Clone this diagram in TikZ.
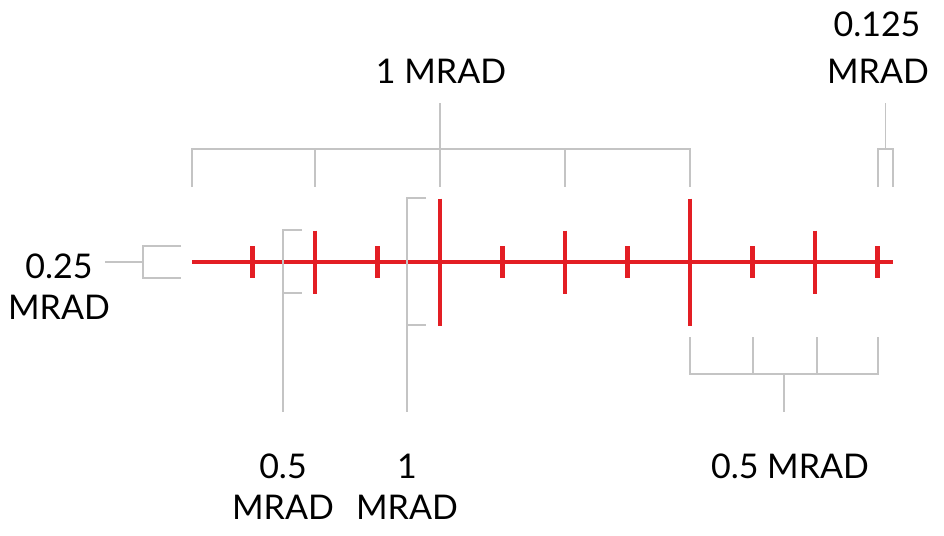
\documentclass[tikz,border=0pt]{standalone}
\usepackage{fontspec}
\setmainfont{Lato}
\definecolor{reticlered}{RGB}{227,30,36}
\definecolor{bracketgray}{RGB}{196,196,196}
\begin{document}
\begin{tikzpicture}[x=1pt,y=-1pt,
  reticle/.style={draw=reticlered,line width=4.5pt},
  brk/.style={draw=bracketgray,line width=1.4pt},
  lbl/.style={font=\fontsize{34}{40}\selectfont,inner sep=0pt,anchor=base,text=black}]
\useasboundingbox (0,0) rectangle (944,535);
\fill[white] (0,0) rectangle (944,535);
% reticle
\coordinate (L) at (192,262);
\coordinate (R) at (893,262);
\draw[reticle] (L) -- (R);
\foreach \k/\h in {1/16,2/31.5,3/16,4/63.5,5/16,6/31.5,7/16,8/63.5,9/16,10/31.5,11/16}{
  \draw[reticle] ({190+62.5*\k},{262-\h}) -- ({190+62.5*\k},{262+\h});
}
% labels
\node[lbl] (t1) at (441,83) {1 MRAD};
\node[lbl] (t2a) at (877,37) {0.125};
\node[lbl] (t2b) at (878,83) {MRAD};
\node[lbl] (l1a) at (59,278) {0.25};
\node[lbl] (l1b) at (59,319) {MRAD};
\node[lbl] (b1a) at (283,478) {0.5};
\node[lbl] (b1b) at (283,519) {MRAD};
\node[lbl] (b2a) at (407,478) {1};
\node[lbl] (b2b) at (407,519) {MRAD};
\node[lbl] (b3) at (790,478) {0.5 MRAD};
% stem ends
\coordinate (s1) at (440,103);
\coordinate (s2) at (885.5,103);
\coordinate (s3) at (105,262);
\coordinate (s4) at (283,412);
\coordinate (s5) at (407,412);
\coordinate (s6) at (784,412);
% top 1 MRAD bracket
\draw[brk] (192,187) -- (192,149) -- (690,149) -- (690,187);
\foreach \x in {315,440,565}{\draw[brk] (\x,149) -- (\x,187);}
\draw[brk] (440,149) -- (s1);
% 0.125 bracket
\draw[brk] (878,187) -- (878,149) -- (893,149) -- (893,187);
\draw[brk] (885.5,149) -- (s2);
% 0.25 bracket
\draw[brk] (181,246) -- (143,246) -- (143,278) -- (181,278);
\draw[brk] (143,262) -- (s3);
% 0.5 bracket left
\draw[brk] (302,230) -- (283,230) -- (s4);
\draw[brk] (283,293) -- (302,293);
% 1 MRAD bracket left
\draw[brk] (426,198) -- (407,198) -- (s5);
\draw[brk] (407,325) -- (426,325);
% bottom 0.5 MRAD bracket
\draw[brk] (690,337) -- (690,374) -- (878,374) -- (878,337);
\foreach \x in {753,817}{\draw[brk] (\x,337) -- (\x,374);}
\draw[brk] (784,374) -- (s6);
\end{tikzpicture}
\end{document}
